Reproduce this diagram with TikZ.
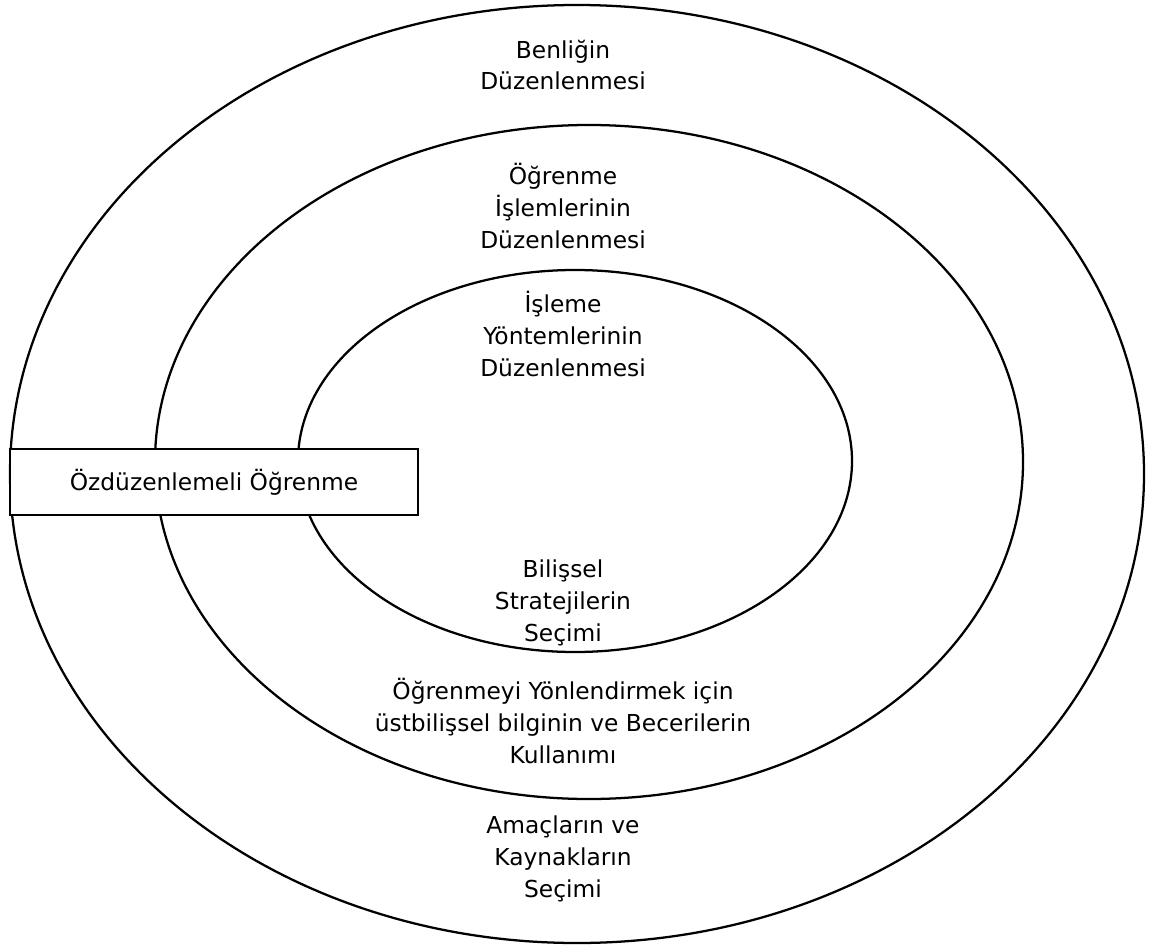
\documentclass[tikz,border=0pt]{standalone}
\usepackage{fontspec}
\setmainfont{DejaVu Sans}
\begin{document}
\begin{tikzpicture}[x=0.75pt,y=-0.75pt,
    ring/.style={line width=1.7pt},
    txt/.style={align=center, inner sep=0pt, font=\fontsize{17.5}{23.8}\selectfont}]
      \useasboundingbox (0,0) rectangle (1151,948);
      % three nested rings
      \draw[ring] (577,474) ellipse (567 and 469);
      \draw[ring] (589,462) ellipse (434 and 337);
      \draw[ring] (575,461) ellipse (277 and 191);
      % ring labels
      \node[txt] (benlik) at (563,65) {Benliğin\\Düzenlenmesi};
      \node[txt] (islemler) at (563,206) {Öğrenme\\İşlemlerinin\\Düzenlenmesi};
      \node[txt] (yontem) at (563,334) {İşleme\\Yöntemlerinin\\Düzenlenmesi};
      \node[txt] (strateji) at (563,603) {Bilişsel\\Stratejilerin\\Seçimi};
      \node[txt] (ustbilis) at (563,721) {Öğrenmeyi Yönlendirmek için\\üstbilişsel bilginin ve Becerilerin\\Kullanımı};
      \node[txt] (amac) at (563,859) {Amaçların ve\\Kaynakların\\Seçimi};
      % title box
      \node[txt, draw, fill=white, line width=1.1pt, minimum width=306pt, minimum height=49.5pt] (ozdz) at (214,482) {Özdüzenlemeli Öğrenme};
\end{tikzpicture}
\end{document}
